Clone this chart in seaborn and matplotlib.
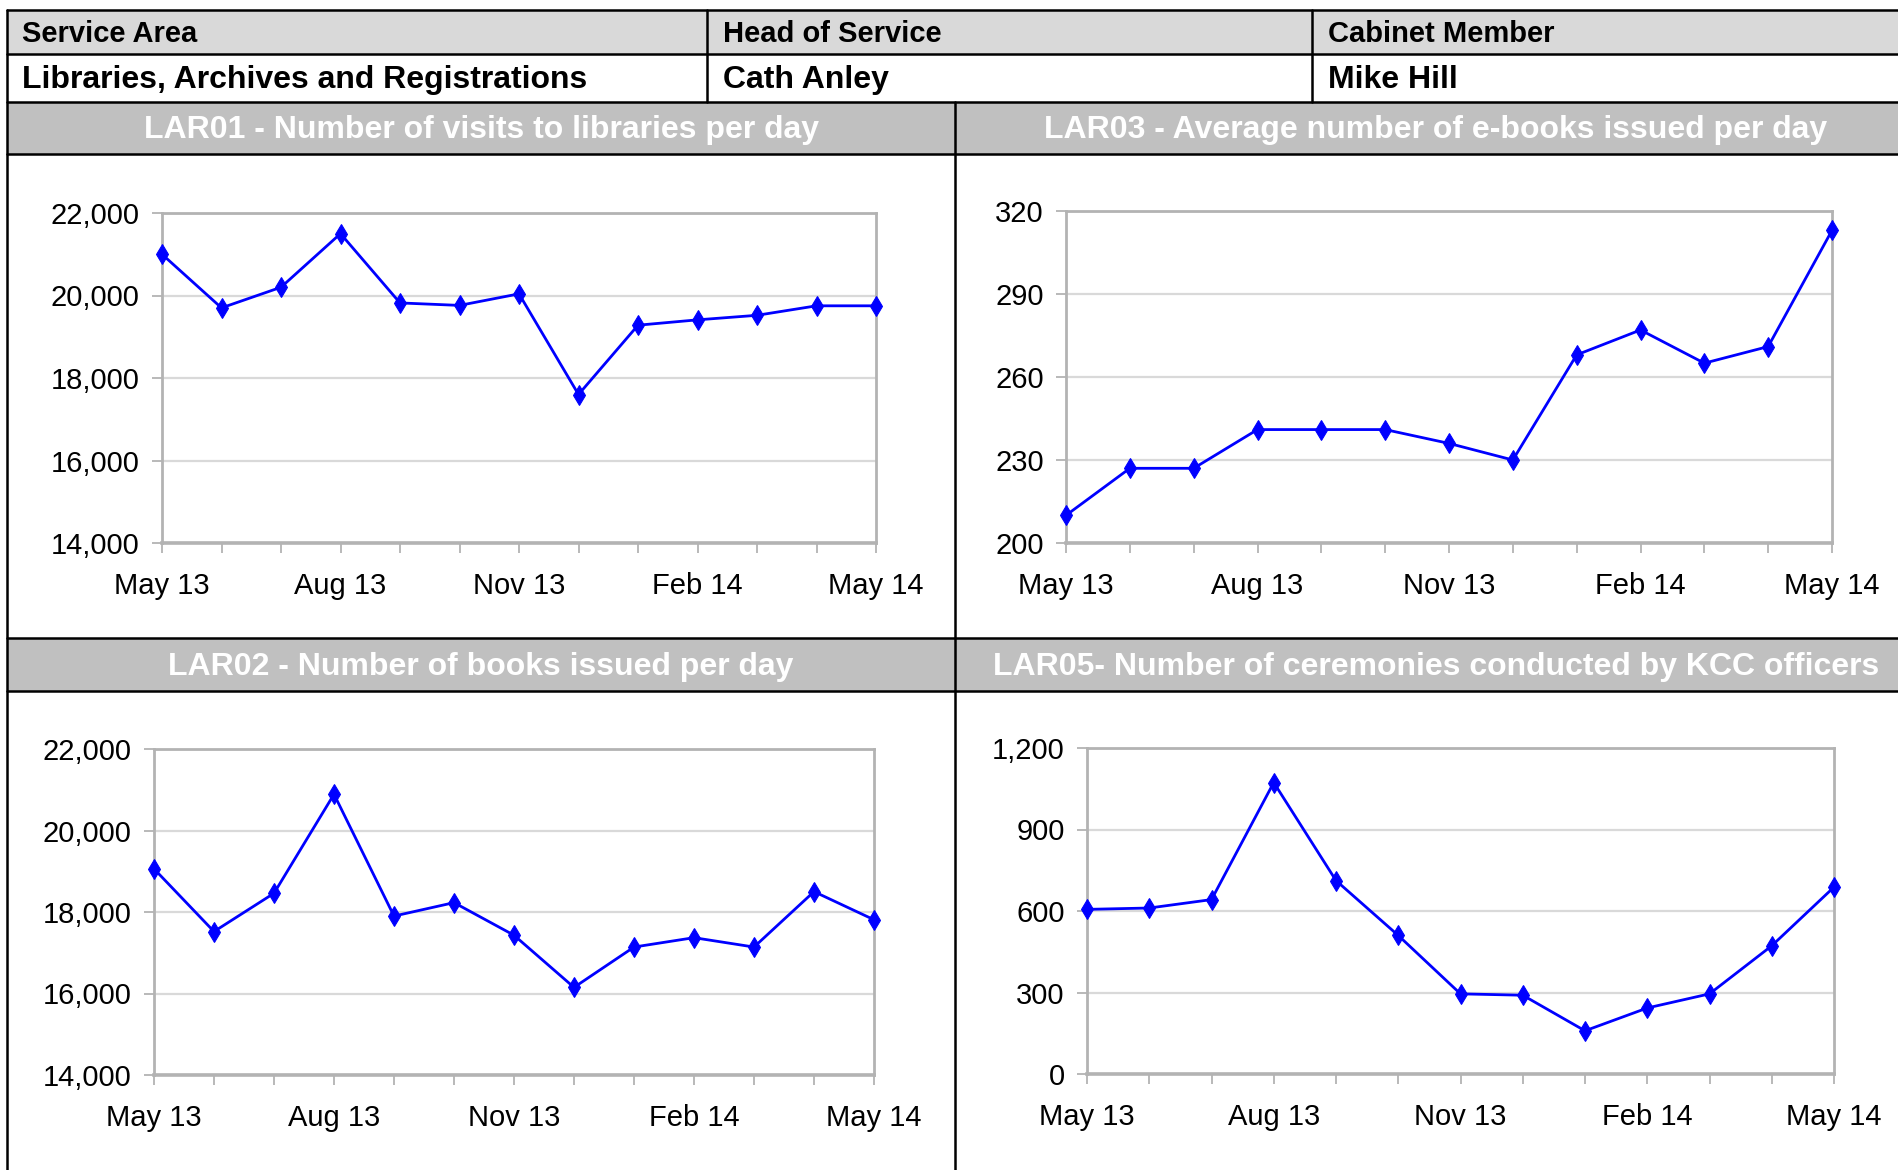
import numpy as np
import pandas as pd
import matplotlib
matplotlib.use("Agg")
import matplotlib.pyplot as plt
import seaborn as sns
from matplotlib.patches import Rectangle
from matplotlib.lines import Line2D
from matplotlib.ticker import StrMethodFormatter

# data
months = ['May 13', 'Jun 13', 'Jul 13', 'Aug 13', 'Sep 13', 'Oct 13', 'Nov 13',
          'Dec 13', 'Jan 14', 'Feb 14', 'Mar 14', 'Apr 14', 'May 14']
shown_labels = ['May 13', 'Aug 13', 'Nov 13', 'Feb 14', 'May 14']

lar01_visits = [21000, 19700, 20200, 21500, 19820, 19760, 20040, 17600,
                19280, 19410, 19520, 19750, 19750]
lar03_ebooks = [210, 227, 227, 241, 241, 241, 236, 230, 268, 277, 265, 271, 313]
lar02_books = [19060, 17520, 18460, 20890, 17900, 18230, 17430, 16150,
               17140, 17370, 17140, 18500, 17810]
lar05_ceremonies = [606, 611, 642, 1073, 712, 510, 295, 290, 159, 243, 295, 472, 688]

table_heads = ['Service Area', 'Head of Service', 'Cabinet Member']
table_values = ['Libraries, Archives and Registrations', 'Cath Anley', 'Mike Hill']

titles = ['LAR01 - Number of visits to libraries per day',
          'LAR03 - Average number of e-books issued per day',
          'LAR02 - Number of books issued per day',
          'LAR05- Number of ceremonies conducted by KCC officers']

W, H = 1898, 1170

sns.set_style("white")
plt.rcParams['font.family'] = ['Liberation Sans', 'DejaVu Sans']

fig = plt.figure(figsize=(W / 100, H / 100), dpi=100)


def fx(x):
    return x / W


def fy(y):
    return 1 - y / H


def rect(l, t, r, b, color):
    fig.add_artist(Rectangle((fx(l), fy(b)), fx(r) - fx(l), fy(t) - fy(b),
                             transform=fig.transFigure, facecolor=color,
                             edgecolor='none', zorder=0))


def hline(y, x0, x1):
    fig.add_artist(Line2D([fx(x0), fx(x1)], [fy(y), fy(y)], transform=fig.transFigure,
                          color='black', lw=1.8, zorder=5))


def vline(x, y0, y1):
    fig.add_artist(Line2D([fx(x), fx(x)], [fy(y0), fy(y1)], transform=fig.transFigure,
                          color='black', lw=1.8, zorder=5))


# header table
rect(7, 10, W, 54, '#d9d9d9')
rect(7, 102, W, 154, '#c0c0c0')
rect(7, 638, W, 691, '#c0c0c0')

for y in [10, 54, 102, 154, 638, 691]:
    hline(y, 7, W)
vline(7, 10, H)
vline(707, 10, 102)
vline(1312, 10, 102)
vline(955, 102, H)

col_x = [22, 723, 1328]
for x, head, val in zip(col_x, table_heads, table_values):
    fig.text(fx(x), fy(34), head, ha='left', va='center', fontsize=21,
             fontweight='bold', color='black')
    fig.text(fx(x), fy(80), val, ha='left', va='center', fontsize=23,
             fontweight='bold', color='black')

title_pos = [(481, 130), (1436, 130), (481, 667), (1436, 667)]
for (x, y), t in zip(title_pos, titles):
    fig.text(fx(x), fy(y), t, ha='center', va='center', fontsize=23,
             fontweight='bold', color='white')


def make_chart(box, values, ymin, ymax, ystep):
    l, t, r, b = box
    ax = fig.add_axes([fx(l), fy(b), fx(r) - fx(l), fy(t) - fy(b)])
    df = pd.DataFrame({'pos': np.arange(len(months)), 'value': values})
    sns.lineplot(data=df, x='pos', y='value', ax=ax, color='#0000ff', lw=2.0,
                 marker='d', markersize=10, markeredgecolor='#0000ff', zorder=4,
                 clip_on=False)
    ax.set_xlim(0, len(months) - 1)
    ax.set_ylim(ymin, ymax)
    ax.set_yticks(np.arange(ymin, ymax + 1, ystep))
    ax.yaxis.set_major_formatter(StrMethodFormatter('{x:,.0f}'))
    ax.set_xticks(np.arange(len(months)))
    ax.set_xticklabels([m if m in shown_labels else '' for m in months])
    ax.set_xlabel('')
    ax.set_ylabel('')
    ax.grid(axis='y', color='#d9d9d9', lw=1.6)
    ax.set_axisbelow(True)
    for s in ax.spines.values():
        s.set_color('#b3b3b3')
        s.set_linewidth(2.0)
    ax.spines['bottom'].set_linewidth(2.6)
    ax.tick_params(axis='both', which='major', labelsize=21, colors='#b3b3b3',
                   labelcolor='black', length=7, width=1.3, direction='out')
    ax.tick_params(axis='x', pad=14, bottom=True)
    ax.tick_params(axis='y', pad=9, left=True)
    return ax


make_chart((162, 213, 876, 543), lar01_visits, 14000, 22000, 2000)
make_chart((1066, 211, 1832, 543), lar03_ebooks, 200, 320, 30)
make_chart((154, 749, 874, 1075), lar02_books, 14000, 22000, 2000)
make_chart((1087, 748, 1834, 1074), lar05_ceremonies, 0, 1200, 300)

fig.savefig('out.png', dpi=100, facecolor='white')
